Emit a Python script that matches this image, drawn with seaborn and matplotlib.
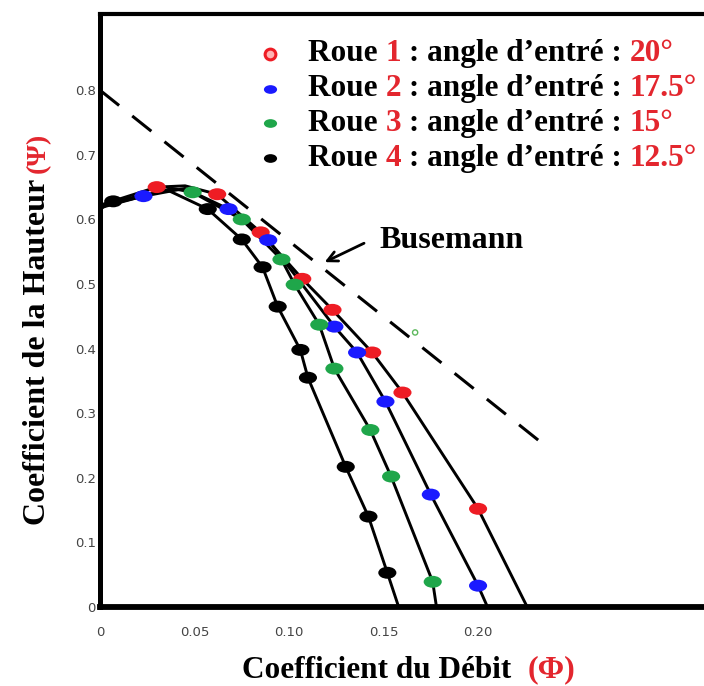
import numpy as np
import pandas as pd
import matplotlib
matplotlib.use("Agg")
import matplotlib.pyplot as plt
from matplotlib.path import Path
import seaborn as sns

# ------------------------------------------------------------
# Data (phi = debit, psi = hauteur)
# ------------------------------------------------------------
roue1_phi = [0.030, 0.062, 0.085, 0.107, 0.123, 0.144, 0.160, 0.200]
roue1_psi = [0.650, 0.639, 0.580, 0.508, 0.460, 0.394, 0.332, 0.152]

roue2_phi = [0.023, 0.068, 0.089, 0.124, 0.136, 0.151, 0.175, 0.200]
roue2_psi = [0.636, 0.616, 0.568, 0.434, 0.394, 0.318, 0.174, 0.033]

roue3_phi = [0.049, 0.075, 0.096, 0.103, 0.116, 0.124, 0.143, 0.154, 0.176]
roue3_psi = [0.642, 0.600, 0.538, 0.499, 0.437, 0.369, 0.274, 0.202, 0.039]

roue4_phi = [0.007, 0.057, 0.075, 0.086, 0.094, 0.106, 0.110, 0.130, 0.142, 0.152]
roue4_psi = [0.628, 0.616, 0.569, 0.526, 0.465, 0.398, 0.355, 0.217, 0.140, 0.053]

# extra points of the black curves: start (phi = 0), top of the hump, end (psi = 0)
curve_start_psi = [0.622, 0.620, 0.618, 0.616]
curve_peak_phi = [0.045, 0.045, 0.038, 0.036]
curve_peak_psi = [0.652, 0.648, 0.648, 0.645]
curve_end_phi = [0.226, 0.205, 0.178, 0.158]

# Busemann line
busemann_phi = [0.0, 0.2354]
busemann_psi = [0.80, 0.25]

roue_num = ["1", "2", "3", "4"]
roue_angle = ["20°", "17.5°", "15°", "12.5°"]
roue_colors = ["#ee1c24", "#1a1aff", "#1fa64a", "#000000"]

x_ticks = [0, 0.05, 0.10, 0.15, 0.20]
x_ticklabels = ["0", "0.05", "0.10", "0.15", "0.20"]
x_minor = [0.0667, 0.0833, 0.1167]
y_ticks = [0, 0.1, 0.2, 0.3, 0.4, 0.5, 0.6, 0.7, 0.8]
y_ticklabels = ["0", "0.1", "0.2", "0.3", "0.4", "0.5", "0.6", "0.7", "0.8"]

RED_TXT = "#e3262e"
SERIF = "Liberation Serif"

# ------------------------------------------------------------
# Build tables
# ------------------------------------------------------------
phis = [roue1_phi, roue2_phi, roue3_phi, roue4_phi]
psis = [roue1_psi, roue2_psi, roue3_psi, roue4_psi]

points = pd.concat([pd.DataFrame({"phi": p, "psi": q, "roue": f"Roue {n}"})
                    for p, q, n in zip(phis, psis, roue_num)], ignore_index=True)

curve_parts = []
for p, q, s, pk_x, pk_y, e, n in zip(phis, psis, curve_start_psi, curve_peak_phi,
                                     curve_peak_psi, curve_end_phi, roue_num):
    part = pd.DataFrame({"phi": [0.0, pk_x] + p + [e],
                         "psi": [s, pk_y] + q + [0.0]})
    part["roue"] = f"Roue {n}"
    curve_parts.append(part.sort_values("phi"))
curves = pd.concat(curve_parts, ignore_index=True)

# flat ellipse marker like in the scan
circ = Path.unit_circle()
ellipse = Path(circ.vertices * np.array([1.0, 0.66]), circ.codes)

# ------------------------------------------------------------
# Plot
# ------------------------------------------------------------
sns.set_style("white")
plt.rcParams["font.family"] = ["DejaVu Sans"]
plt.rcParams["text.color"] = "black"

fig = plt.figure(figsize=(7.04, 6.86), dpi=100)
ax = fig.add_axes([100 / 704, 79 / 686, 0.87, 593 / 686])

# Busemann dashed line
sns.lineplot(x=busemann_phi, y=busemann_psi, ax=ax, color="black", lw=2.2,
             linestyle=(0, (8, 5.5)))

# black curves
for n in roue_num:
    sub = curves[curves["roue"] == f"Roue {n}"]
    sns.lineplot(data=sub, x="phi", y="psi", ax=ax, sort=False, color="black",
                 lw=2.1, estimator=None)

# coloured points
sns.scatterplot(data=points, x="phi", y="psi", hue="roue", palette=roue_colors,
                marker=ellipse, s=170, linewidth=0, ax=ax, legend=False, zorder=5)

# small green mark near the dashed line
ax.scatter([0.1667], [0.425], s=14, facecolors="none", edgecolors="#5cb85c",
           linewidths=1.0, zorder=5)

# axes look
ax.set_xlim(0, 0.324)
ax.set_ylim(0, 0.918)
for side in ["left", "bottom", "top"]:
    ax.spines[side].set_color("black")
ax.spines["left"].set_linewidth(3.6)
ax.spines["bottom"].set_linewidth(4.2)
ax.spines["top"].set_linewidth(3.0)
ax.spines["right"].set_visible(False)

ax.set_xticks(x_ticks)
ax.set_xticklabels(x_ticklabels)
ax.set_xticks(x_minor, minor=True)
ax.set_yticks(y_ticks)
ax.set_yticklabels(y_ticklabels)
ax.tick_params(axis="x", which="major", direction="inout", length=18, width=1.6,
               labelsize=9.5, pad=5, colors="black")
ax.tick_params(axis="x", which="minor", direction="in", length=10, width=1.6,
               colors="black")
ax.tick_params(axis="y", direction="in", length=9, width=1.4, labelsize=9.5,
               pad=3, colors="black")
for lab in ax.get_xticklabels() + ax.get_yticklabels():
    lab.set_color("#444444")
ax.set_xlabel("")
ax.set_ylabel("")

# Busemann label and arrow
ax.annotate("", xy=(0.1175, 0.532), xytext=(0.141, 0.565),
            arrowprops=dict(arrowstyle="->", lw=2.0, color="black",
                            mutation_scale=18))
ax.text(0.148, 0.568, "Busemann", family=SERIF, weight="bold", fontsize=23,
        va="center", ha="left", color="black")

# legend (multi colour text)
row_y = [0.933, 0.874, 0.816, 0.757]
for n, ang, col, yy in zip(roue_num, roue_angle, roue_colors, row_y):
    if n == "1":
        ax.scatter([0.278], [yy], transform=ax.transAxes, s=60, marker="o",
                   facecolors="#ffb3b3", edgecolors=col, linewidths=2.2,
                   clip_on=False, zorder=6)
    else:
        ax.scatter([0.278], [yy], transform=ax.transAxes, s=90, marker=ellipse,
                   color=col, linewidths=0, clip_on=False, zorder=6)
    t = ax.text(0.34, yy, "Roue ", transform=ax.transAxes, family=SERIF,
                weight="bold", fontsize=22.5, va="center", ha="left", color="black")
    t = ax.annotate(n, xy=(1, 0), xycoords=t, va="bottom", ha="left",
                    family=SERIF, weight="bold", fontsize=22.5, color=RED_TXT)
    t = ax.annotate(" : angle d’entré : ", xy=(1, 0), xycoords=t, va="bottom",
                    ha="left", family=SERIF, weight="bold", fontsize=22.5,
                    color="black")
    ax.annotate(ang, xy=(1, 0), xycoords=t, va="bottom", ha="left",
                family=SERIF, weight="bold", fontsize=22.5, color=RED_TXT)

# axis titles
xl = fig.text(242 / 704, 1 - 670 / 686, "Coefficient du Débit", family=SERIF,
              weight="bold", fontsize=22.5, va="center", ha="left", color="black")
ax.annotate("(Φ)", xy=(1, 0.5), xycoords=xl, xytext=(12, 0),
            textcoords="offset points", va="center", ha="left",
            family=SERIF, weight="bold", fontsize=23, color=RED_TXT,
            annotation_clip=False)

yl = fig.text(38 / 704, 1 - 525 / 686, "Coefficient de la Hauteur", family=SERIF,
              weight="bold", fontsize=23, rotation=90, va="bottom", ha="center",
              color="black")
ax.annotate("(Ψ)", xy=(0.5, 1), xycoords=yl, xytext=(0, 4),
            textcoords="offset points", va="bottom", ha="center",
            rotation=90, family=SERIF, weight="bold", fontsize=20,
            color=RED_TXT, annotation_clip=False)

fig.savefig("out.png", dpi=100)
